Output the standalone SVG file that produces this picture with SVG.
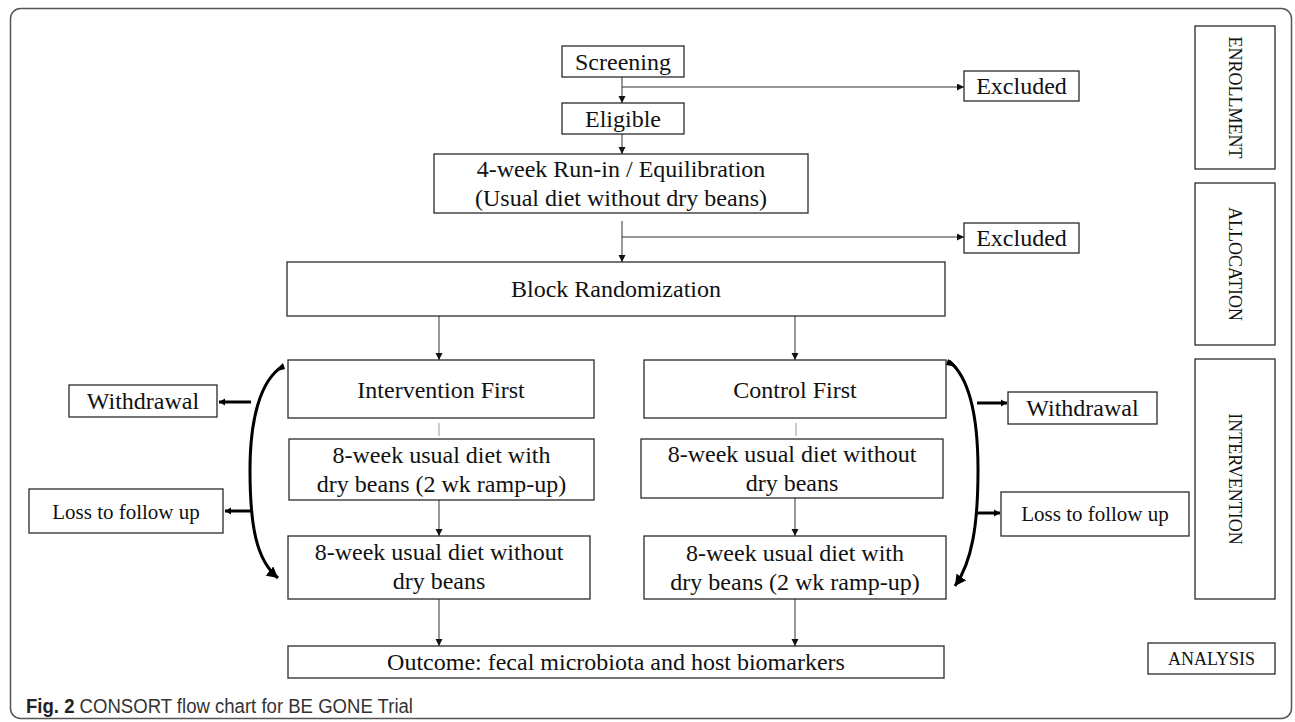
<svg xmlns="http://www.w3.org/2000/svg" width="1295" height="722" viewBox="0 0 1295 722">
  <style>
    .box { fill: #fff; stroke: #2a2a2a; stroke-width: 1.3; }
    .t { font-family: "Liberation Serif", "Times New Roman", serif; font-size: 24px; fill: #111; text-anchor: middle; }
    .ts { font-size: 21px; }
    .tl { font-size: 18px; }
    .ln { fill: none; stroke: #333; stroke-width: 1; }
    .lg { fill: none; stroke: #999; stroke-width: 1; }
    .thick { fill: none; stroke: #000; stroke-width: 3; }
    .cap { font-family: "Liberation Sans", Arial, sans-serif; font-size: 20px; fill: #333; }
  </style>
  <defs>
    <marker id="arr" markerUnits="userSpaceOnUse" markerWidth="8" markerHeight="8" refX="7" refY="3.5" orient="auto">
      <path d="M0,0 L7,3.5 L0,7 z" fill="#111"/>
    </marker>
    <marker id="arrT" markerUnits="userSpaceOnUse" markerWidth="8" markerHeight="8" refX="6" refY="4" orient="auto">
      <path d="M0,0.5 L6,4 L0,7.5 z" fill="#000"/>
    </marker>
    <marker id="arrB" markerUnits="userSpaceOnUse" markerWidth="14" markerHeight="12" refX="11" refY="6" orient="auto">
      <path d="M0,0 L11,6 L0,12 z" fill="#000"/>
    </marker>
  </defs>

  <rect x="10.5" y="8.5" width="1281" height="710" rx="10" ry="10" fill="#fff" stroke="#555" stroke-width="1.5"/>

  <g id="connectors">
    <line class="ln" x1="622" y1="77" x2="622" y2="103" marker-end="url(#arr)"/>
    <line class="ln" x1="622" y1="87" x2="964" y2="87" marker-end="url(#arr)"/>
    <line class="ln" x1="622" y1="134" x2="622" y2="154" marker-end="url(#arr)"/>
    <line class="ln" x1="622" y1="221" x2="622" y2="262" marker-end="url(#arr)"/>
    <line class="ln" x1="622" y1="237" x2="964" y2="237" marker-end="url(#arr)"/>
    <line class="ln" x1="439" y1="316" x2="439" y2="360" marker-end="url(#arr)"/>
    <line class="ln" x1="795" y1="316" x2="795" y2="360" marker-end="url(#arr)"/>
    <line class="lg" x1="439" y1="423" x2="439" y2="436"/>
    <line class="lg" x1="796" y1="423" x2="796" y2="436"/>
    <line class="ln" x1="439" y1="500" x2="439" y2="536" marker-end="url(#arr)"/>
    <line class="ln" x1="795" y1="498" x2="795" y2="536" marker-end="url(#arr)"/>
    <line class="ln" x1="439" y1="599" x2="439" y2="646" marker-end="url(#arr)"/>
    <line class="ln" x1="795" y1="599" x2="795" y2="646" marker-end="url(#arr)"/>
    <path class="thick" d="M283,366 C260,380 250,420 250,470 C250,525 256,560 278,578" marker-end="url(#arrB)"/>
    <path d="M283,363 L285,369 L274,372 Z" fill="#000"/>
    <path class="thick" d="M949,361 C970,378 978,420 978,470 C978,525 972,562 955,586" marker-end="url(#arrB)"/>
    <path d="M948,359 L946,365 L957,367 Z" fill="#000"/>
    <line class="thick" x1="251" y1="402" x2="219" y2="402" marker-end="url(#arrT)"/>
    <line class="thick" x1="251" y1="511" x2="225" y2="511" marker-end="url(#arrT)"/>
    <line class="thick" x1="977" y1="403" x2="1007" y2="403" marker-end="url(#arrT)"/>
    <line class="thick" x1="977" y1="513" x2="1000" y2="513" marker-end="url(#arrT)"/>
  </g>

  <g id="screening"><rect class="box" x="562" y="46" width="122" height="31"/><text class="t" x="623" y="70">Screening</text></g>
  <g id="eligible"><rect class="box" x="562" y="103" width="122" height="31"/><text class="t" x="623" y="127">Eligible</text></g>
  <g id="excluded1"><rect class="box" x="964" y="71" width="115" height="30"/><text class="t" x="1021.5" y="94">Excluded</text></g>
  <g id="runin"><rect class="box" x="434" y="154" width="374" height="59"/>
    <text class="t" x="621" y="177">4-week Run-in / Equilibration</text>
    <text class="t" x="621" y="206">(Usual diet without dry beans)</text></g>
  <g id="excluded2"><rect class="box" x="964" y="223" width="115" height="30"/><text class="t" x="1021.5" y="246">Excluded</text></g>
  <g id="block"><rect class="box" x="287" y="262" width="658" height="54"/><text class="t" x="616" y="297">Block Randomization</text></g>
  <g id="intfirst"><rect class="box" x="288" y="360" width="306" height="58"/><text class="t" x="441" y="398">Intervention First</text></g>
  <g id="ctlfirst"><rect class="box" x="644" y="360" width="302" height="58"/><text class="t" x="795" y="398">Control First</text></g>
  <g id="int8a"><rect class="box" x="289" y="439" width="305" height="61"/>
    <text class="t" x="441.5" y="463">8-week usual diet with</text>
    <text class="t" x="441.5" y="492">dry beans (2 wk ramp-up)</text></g>
  <g id="ctl8a"><rect class="box" x="641" y="439" width="302" height="59"/>
    <text class="t" x="792" y="462">8-week usual diet without</text>
    <text class="t" x="792" y="491">dry beans</text></g>
  <g id="int8b"><rect class="box" x="288" y="536" width="302" height="63"/>
    <text class="t" x="439" y="560">8-week usual diet without</text>
    <text class="t" x="439" y="589">dry beans</text></g>
  <g id="ctl8b"><rect class="box" x="644" y="536" width="302" height="63"/>
    <text class="t" x="795" y="561">8-week usual diet with</text>
    <text class="t" x="795" y="590">dry beans (2 wk ramp-up)</text></g>
  <g id="outcome"><rect class="box" x="288" y="646" width="656" height="32"/><text class="t" x="616" y="670">Outcome: fecal microbiota and host biomarkers</text></g>
  <g id="withdrawL"><rect class="box" x="69" y="385" width="148" height="32"/><text class="t" x="143" y="409">Withdrawal</text></g>
  <g id="lossL"><rect class="box" x="29" y="489" width="194" height="44"/><text class="t ts" x="126" y="519">Loss to follow up</text></g>
  <g id="withdrawR"><rect class="box" x="1008" y="392" width="149" height="32"/><text class="t" x="1082.5" y="416">Withdrawal</text></g>
  <g id="lossR"><rect class="box" x="1001" y="492" width="188" height="44"/><text class="t ts" x="1095" y="521">Loss to follow up</text></g>
  <g id="enrollment"><rect class="box" x="1195" y="26" width="80" height="143"/><text class="t tl" transform="translate(1235,97.5) rotate(90)" y="6">ENROLLMENT</text></g>
  <g id="allocation"><rect class="box" x="1195" y="183" width="80" height="162"/><text class="t tl" transform="translate(1235,264) rotate(90)" y="6">ALLOCATION</text></g>
  <g id="intervention"><rect class="box" x="1195" y="359" width="80" height="240"/><text class="t tl" transform="translate(1235,479) rotate(90)" y="6">INTERVENTION</text></g>
  <g id="analysis"><rect class="box" x="1148" y="643" width="127" height="31"/><text class="t tl" x="1211.5" y="665">ANALYSIS</text></g>

  <text class="cap" x="26" y="713" textLength="387" lengthAdjust="spacingAndGlyphs"><tspan font-weight="bold" fill="#222">Fig. 2</tspan> CONSORT flow chart for BE GONE Trial</text>
</svg>
